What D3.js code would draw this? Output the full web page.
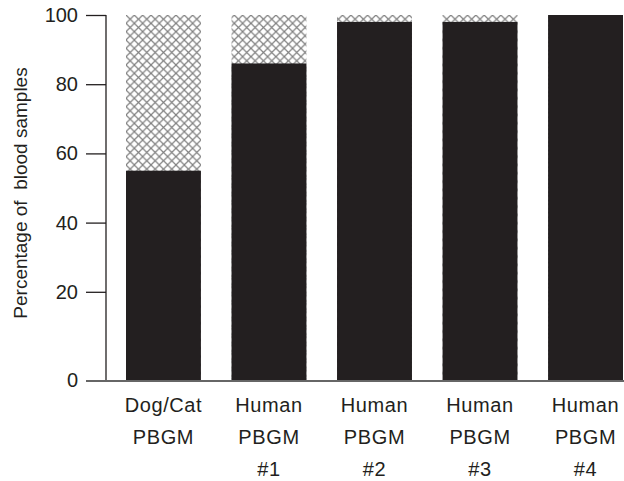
<!DOCTYPE html>
<html>
<head>
<meta charset="utf-8">
<script src="https://cdn.jsdelivr.net/npm/d3@7"></script>
<style>
  body { margin: 0; background: #fff; }
  text { font-family: "Liberation Sans", Arial, sans-serif; fill: #231f20; }
</style>
</head>
<body>
<div id="chart"></div>
<script>
/* DATA */
const categories = [
  ["Dog/Cat", "PBGM"],
  ["Human", "PBGM", "#1"],
  ["Human", "PBGM", "#2"],
  ["Human", "PBGM", "#3"],
  ["Human", "PBGM", "#4"]
];
const solidValues = [55, 86, 98, 98, 100];   // black part
const totalValues = [100, 100, 100, 100, 100]; // top of hatched part
const yTicks = [20, 40, 60, 80, 100];
const yLabel = "Percentage of  blood samples";

/* CONSTANTS */
const width = 624,
  height = 481,
  ink = "#231f20",
  fontSize = 20,
  zeroDrop = 20; // baseline sits below the linear zero

const svg = d3.select("#chart")
  .append("svg")
  .attr("width", width)
  .attr("height", height);

// crosshatch pattern
const pat = svg.append("defs")
  .append("pattern")
  .attr("id", "hatch")
  .attr("patternUnits", "userSpaceOnUse")
  .attr("x", 126)
  .attr("y", 15)
  .attr("width", 8.33)
  .attr("height", 8.33);
pat.append("path")
  .attr("d", "M0,0L8.33,8.33M8.33,0L0,8.33")
  .attr("stroke", "#808080")
  .attr("stroke-width", 1.2);

const xScale = d3.scaleBand()
  .domain(d3.range(categories.length))
  .range([126, 623])
  .paddingInner(0.29)
  .paddingOuter(0);

const yScale = d3.scaleLinear()
  .domain([0, 100])
  .range([361, 15]);

const baseY = yScale(0) + zeroDrop;
const axisX = 106;

// hatched (total) bars
svg.selectAll("rect.hatch")
  .data(totalValues)
  .join("rect")
  .attr("class", "hatch")
  .attr("x", (d, i) => xScale(i))
  .attr("width", xScale.bandwidth())
  .attr("y", d => yScale(d))
  .attr("height", d => baseY - yScale(d))
  .attr("fill", "url(#hatch)");

// solid bars
svg.selectAll("rect.solid")
  .data(solidValues)
  .join("rect")
  .attr("class", "solid")
  .attr("x", (d, i) => xScale(i))
  .attr("width", xScale.bandwidth())
  .attr("y", d => yScale(d))
  .attr("height", d => baseY - yScale(d))
  .attr("fill", ink);

// y axis
const yAxis = d3.axisLeft(yScale)
  .tickValues(yTicks)
  .tickSize(20)
  .tickPadding(8);

const gy = svg.append("g")
  .attr("transform", `translate(${axisX},0)`)
  .call(yAxis)
  .attr("font-size", fontSize)
  .attr("font-family", "Liberation Sans, Arial, sans-serif");
gy.select(".domain").remove();
gy.selectAll(".tick line").attr("stroke", ink).attr("stroke-width", 1.3);
gy.selectAll(".tick text").attr("fill", ink);

// vertical axis line
svg.append("line")
  .attr("x1", axisX).attr("x2", axisX)
  .attr("y1", yScale(100)).attr("y2", baseY)
  .attr("stroke", ink)
  .attr("stroke-width", 1.3);

// baseline with zero label
svg.append("line")
  .attr("x1", axisX - 20).attr("x2", width)
  .attr("y1", baseY).attr("y2", baseY)
  .attr("stroke", "#666")
  .attr("stroke-width", 2);

svg.append("text")
  .attr("x", axisX - 28)
  .attr("y", baseY)
  .attr("dy", "0.32em")
  .attr("text-anchor", "end")
  .attr("font-size", fontSize)
  .text("0");

// category labels
const lab = svg.selectAll("text.cat")
  .data(categories)
  .join("text")
  .attr("class", "cat")
  .attr("text-anchor", "middle")
  .attr("font-size", fontSize)
  .attr("letter-spacing", 0.6)
  .attr("transform", (d, i) => `translate(${xScale(i) + xScale.bandwidth() / 2},${baseY + 31})`);

lab.selectAll("tspan")
  .data(d => d)
  .join("tspan")
  .attr("x", 0)
  .attr("y", (d, i) => i * 32)
  .text(d => d);

// y axis title
svg.append("text")
  .attr("transform", `translate(27,193) rotate(-90)`)
  .attr("text-anchor", "middle")
  .attr("font-size", 19)
  .style("white-space", "pre")
  .text(yLabel);
</script>
</body>
</html>
